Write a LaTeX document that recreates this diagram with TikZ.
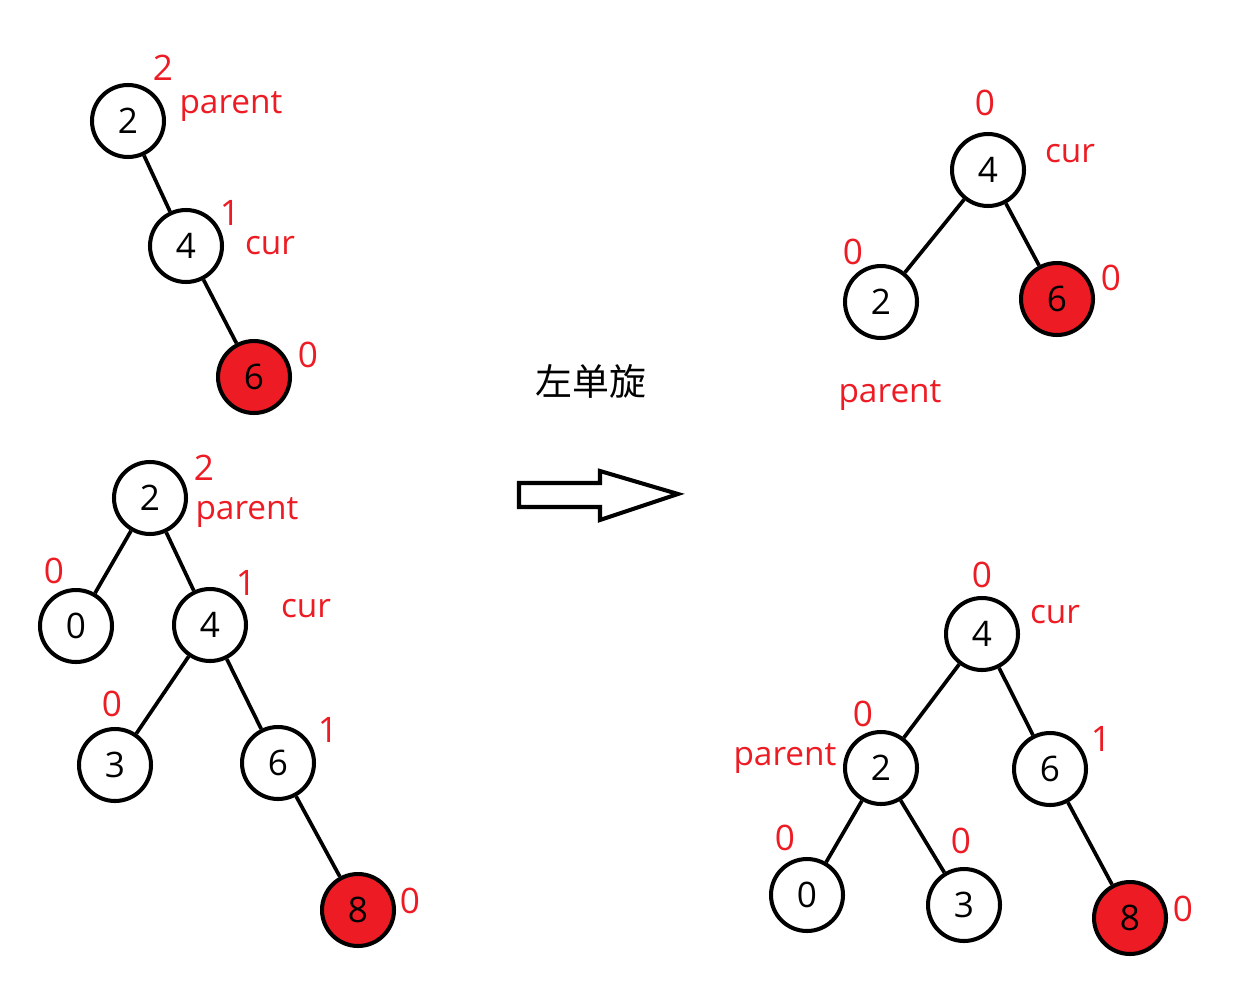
\documentclass[tikz,border=0pt]{standalone}
\usepackage{fontspec}
\setmainfont{Open Sans}
\newfontfamily\cjk{Noto Sans CJK SC}
\usetikzlibrary{positioning}
\definecolor{paintred}{HTML}{ED1C24}

\begin{document}
\begin{tikzpicture}[x=0.02cm, y=-0.02cm,
    tnode/.style={circle, draw=black, line width=2.3pt, minimum size=1.44cm, inner sep=0pt,
      font=\fontsize{20}{20}\selectfont},
    rnode/.style={tnode, fill=paintred},
    edge/.style={line width=2.1pt},
    bf/.style={text=paintred, font=\fontsize{20}{20}\selectfont, inner sep=0pt},
    word/.style={text=paintred, font=\fontsize{19}{19}\selectfont, inner sep=0pt, anchor=base}]
    \useasboundingbox (0,0) rectangle (1246,990);
    % before, small tree
    \node[tnode] (a2) at (128,121) {2};
    \node[tnode] (a4) at (186,246) {4};
    \node[rnode] (a6) at (254,377) {6};
    \draw[edge] (a2) -- (a4);
    \draw[edge] (a4) -- (a6);
    \node[bf] (a2bf) at (163,68) {2};
    \node[word] (a2p) at (231,113) {parent};
    \node[bf] (a4bf) at (230,213) {1};
    \node[word] (a4c) at (270,254) {cur};
    \node[bf] (a6bf) at (308,355) {0};
    % before, big tree
    \node[tnode] (b2) at (150,498) {2};
    \node[tnode] (b0) at (76,626) {0};
    \node[tnode] (b4) at (210,625) {4};
    \node[tnode] (b3) at (115,765) {3};
    \node[tnode] (b6) at (278,763) {6};
    \node[rnode] (b8) at (358,910) {8};
    \draw[edge] (b2) -- (b0);
    \draw[edge] (b2) -- (b4);
    \draw[edge] (b4) -- (b3);
    \draw[edge] (b4) -- (b6);
    \draw[edge] (b6) -- (b8);
    \node[bf] (b2bf) at (204,468) {2};
    \node[word] (b2p) at (247,519) {parent};
    \node[bf] (b0bf) at (54,571) {0};
    \node[bf] (b4bf) at (246,583) {1};
    \node[word] (b4c) at (306,617) {cur};
    \node[bf] (b3bf) at (112,704) {0};
    \node[bf] (b6bf) at (328,730) {1};
    \node[bf] (b8bf) at (410,901) {0};
    % rotation
    \node[font=\cjk\fontsize{21}{21}\selectfont] (rot) at (591,381) {左单旋};
    \draw[line width=2.3pt, line join=miter] (519,483) -- (600,483) -- (600,471) -- (678,494)
      -- (600,520) -- (600,507) -- (519,507) -- cycle;
    % after, small tree
    \node[tnode] (c4) at (988,170) {4};
    \node[tnode] (c2) at (881,302) {2};
    \node[rnode] (c6) at (1057,299) {6};
    \draw[edge] (c4) -- (c2);
    \draw[edge] (c4) -- (c6);
    \node[bf] (c4bf) at (985,103) {0};
    \node[word] (c4c) at (1070,162) {cur};
    \node[bf] (c2bf) at (853,252) {0};
    \node[word] (c2p) at (890,402) {parent};
    \node[bf] (c6bf) at (1111,278) {0};
    % after, big tree
    \node[tnode] (d4) at (982,634) {4};
    \node[tnode] (d2) at (881,768) {2};
    \node[tnode] (d6) at (1050,769) {6};
    \node[tnode] (d0) at (807,895) {0};
    \node[tnode] (d3) at (964,905) {3};
    \node[rnode] (d8) at (1130,918) {8};
    \draw[edge] (d4) -- (d2);
    \draw[edge] (d4) -- (d6);
    \draw[edge] (d2) -- (d0);
    \draw[edge] (d2) -- (d3);
    \draw[edge] (d6) -- (d8);
    \node[bf] (d4bf) at (982,575) {0};
    \node[word] (d4c) at (1055,623) {cur};
    \node[bf] (d2bf) at (863,714) {0};
    \node[word] (d2p) at (785,765) {parent};
    \node[bf] (d6bf) at (1101,739) {1};
    \node[bf] (d0bf) at (785,838) {0};
    \node[bf] (d3bf) at (961,841) {0};
    \node[bf] (d8bf) at (1183,909) {0};
\end{tikzpicture}
\end{document}
